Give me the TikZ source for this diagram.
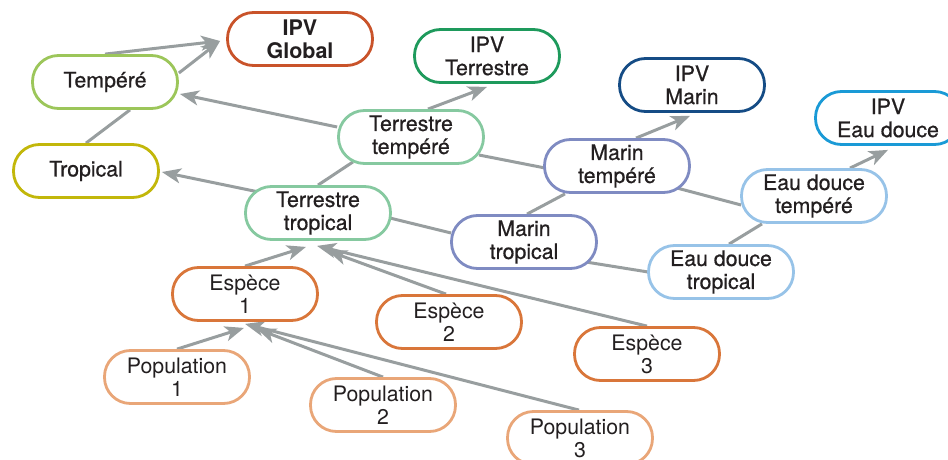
\documentclass[tikz,border=0pt]{standalone}
\usepackage{fontspec}
\setmainfont{TeX Gyre Heros}
\newfontfamily\medfont{TeX Gyre Heros}[FakeBold=0.7]
\usetikzlibrary{arrows.meta,backgrounds}
\definecolor{txt}{HTML}{231F20}
\definecolor{cglob}{HTML}{C9532A}
\definecolor{ctemp}{HTML}{9CC65A}
\definecolor{ctrop}{HTML}{C2B70A}
\definecolor{cipvT}{HTML}{1E9A5C}
\definecolor{cterr}{HTML}{86C9A0}
\definecolor{cipvM}{HTML}{154C85}
\definecolor{cmar}{HTML}{7F8BC2}
\definecolor{cipvE}{HTML}{1A9AD6}
\definecolor{ceau}{HTML}{97C3E8}
\definecolor{cesp}{HTML}{D9763A}
\definecolor{cpop}{HTML}{E9A678}
\definecolor{cline}{HTML}{989E9F}
\tikzset{
  box/.style={draw, line width=2.8pt, rounded corners=26pt, minimum width=145pt,
    minimum height=53pt, inner sep=0pt, align=center, fill=white, text=txt,
    font=\fontsize{21.3}{23}\selectfont},
  medbox/.style={box, font=\fontsize{21.3}{23}\selectfont\medfont},
  conn/.style={draw=cline, line width=3pt},
  arr/.style={conn, -{Stealth[length=19pt,width=15pt,inset=5pt]}}
}
\begin{document}
\begin{tikzpicture}[x=1pt,y=-1pt]
\useasboundingbox (0,0) rectangle (948,460);
\node[box,draw=cglob,font=\fontsize{21.5}{23}\selectfont\bfseries] (glob) at (300,39) {IPV\\Global};
\node[medbox,draw=ctemp] (temp) at (105,82) {Tempéré};
\node[medbox,draw=ctrop] (trop) at (86,171) {Tropical};
\node[medbox,draw=cipvT] (ipvT) at (487,56) {IPV\\Terrestre};
\node[medbox,draw=cterr] (tt) at (411,137) {Terrestre\\tempéré};
\node[medbox,draw=cterr] (ttr) at (318,213) {Terrestre\\tropical};
\node[medbox,draw=cipvM] (ipvM) at (692,85) {IPV\\Marin};
\node[medbox,draw=cmar] (mt) at (617,166) {Marin\\tempéré};
\node[medbox,draw=cmar] (mtr) at (524,242) {Marin\\tropical};
\node[medbox,draw=cipvE] (ipvE) at (888,118) {IPV\\Eau douce};
\node[medbox,draw=ceau] (et) at (814,196) {Eau douce\\tempéré};
\node[medbox,draw=ceau] (etr) at (721,272) {Eau douce\\tropical};
\node[box,draw=cesp] (sp1) at (245,294) {Espèce\\1};
\node[box,draw=cesp] (sp2) at (449,322) {Espèce\\2};
\node[box,draw=cesp] (sp3) at (647,354) {Espèce\\3};
\node[box,draw=cpop] (p1) at (177,377) {Population\\1};
\node[box,draw=cpop] (p2) at (383,405) {Population\\2};
\node[box,draw=cpop] (p3) at (580,438) {Population\\3};
\begin{pgfonlayer}{background}
\draw[arr] (temp.north) -- ([xshift=-6pt,yshift=-2pt]glob.west);
\draw[arr] ([yshift=9pt]temp.east) -- ([xshift=-6pt,yshift=-2pt]glob.west);
\draw[conn] ([xshift=25pt]temp.south) -- (trop.north);
\draw[arr] ([yshift=10pt]tt.west) -- ([xshift=1pt,yshift=-12pt]temp.east);
\draw[arr] ([xshift=20pt,yshift=-8pt]ttr.north west) -- ([xshift=2pt,yshift=-1pt]trop.east);
\draw[conn] (ttr.north) -- ([xshift=-58pt,yshift=3pt]tt.south);
\draw[arr] ([xshift=17pt]tt.north) -- ([yshift=-3pt]ipvT.south);
\draw[conn] ([xshift=-6pt,yshift=-18pt]tt.east) -- ([xshift=2pt,yshift=-2pt]mt.west);
\draw[conn] ([xshift=-2pt,yshift=-5pt]ttr.east) -- ([xshift=1pt,yshift=9pt]mtr.west);
\draw[conn] ([xshift=3pt]mtr.north) -- ([xshift=-52pt]mt.south);
\draw[arr] ([xshift=19pt]mt.north) -- ([xshift=-2pt,yshift=-3pt]ipvM.south);
\draw[conn] ([xshift=-14pt,yshift=-22pt]mt.east) -- ([xshift=1pt,yshift=-9pt]et.west);
\draw[conn] ([xshift=-12pt,yshift=-20pt]mtr.east) -- ([xshift=1pt]etr.west);
\draw[conn] ([xshift=8pt]etr.north) -- ([xshift=-52pt]et.south);
\draw[arr] ([xshift=36pt]et.north) -- ([yshift=-4pt]ipvE.south);
\draw[arr] (sp1.north) -- ([xshift=-12pt,yshift=-6pt]ttr.south);
\draw[arr] ([xshift=-3pt]sp2.north) -- ([xshift=10pt,yshift=-10pt]ttr.south);
\draw[arr] (sp3.north) -- ([xshift=-1pt,yshift=-5pt]ttr.south);
\draw[arr] (p1.north) -- ([xshift=-1pt,yshift=-6pt]sp1.south);
\draw[arr] (p2.north) -- ([xshift=12pt,yshift=-7pt]sp1.south);
\draw[arr] ([xshift=-1pt]p3.north) -- ([yshift=-2pt]sp1.south);
\end{pgfonlayer}
\end{tikzpicture}
\end{document}
